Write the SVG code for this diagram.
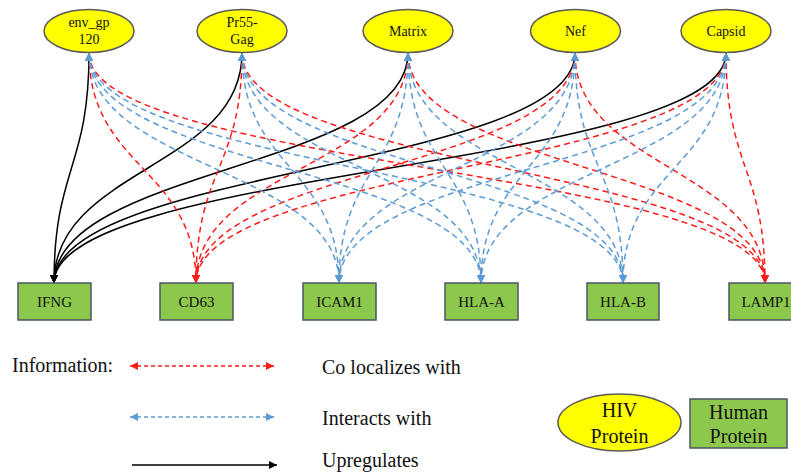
<svg xmlns="http://www.w3.org/2000/svg" width="791" height="473" viewBox="0 0 791 473">
<style>
.hiv{fill:#ffff00;stroke:#5a5a5a;stroke-width:1.5}
.hum{fill:#8cc84b;stroke:#4a5568;stroke-width:1.5}
.t{font-family:"Liberation Serif","Times New Roman",serif;fill:#111;text-anchor:middle}
.nt{font-size:14px}
.bt{font-size:15px}
.lg{font-size:20px}
.lt{font-family:"Liberation Serif","Times New Roman",serif;fill:#111;font-size:20px}
.red{fill:none;stroke:#ff1a1a;stroke-width:1.5;stroke-dasharray:6 4;marker-start:url(#ar);marker-end:url(#ar)}
.blue{fill:none;stroke:#5b9bd5;stroke-width:1.5;stroke-dasharray:6 4;marker-start:url(#ab);marker-end:url(#ab)}
.blk{fill:none;stroke:#000;stroke-width:1.5;marker-end:url(#ak)}
</style>
<defs>
<marker id="ar" viewBox="0 0 10 10" refX="10" refY="5" markerWidth="9" markerHeight="8" markerUnits="userSpaceOnUse" orient="auto-start-reverse"><path d="M0,0 L10,5 L0,10 z" fill="#ff1a1a"/></marker>
<marker id="ab" viewBox="0 0 10 10" refX="10" refY="5" markerWidth="9" markerHeight="8" markerUnits="userSpaceOnUse" orient="auto-start-reverse"><path d="M0,0 L10,5 L0,10 z" fill="#5b9bd5"/></marker>
<marker id="ak" viewBox="0 0 10 10" refX="10" refY="5" markerWidth="10" markerHeight="8" markerUnits="userSpaceOnUse" orient="auto-start-reverse"><path d="M0,0 L10,5 L0,10 z" fill="#000"/></marker>
</defs>
<rect width="791" height="473" fill="#fff"/>
<g id="connectors">
<path class="blk" d="M89,53 C89,168 54,168 54,283"/>
<path class="blk" d="M242,53 C242,168 54,168 54,283"/>
<path class="blk" d="M408,53 C408,168 54,168 54,283"/>
<path class="blk" d="M575,53 C575,168 54,168 54,283"/>
<path class="blk" d="M726,53 C726,168 54,168 54,283"/>
<path class="red" d="M89,53 C89,168 196,168 196,283"/>
<path class="red" d="M242,53 C242,168 196,168 196,283"/>
<path class="red" d="M408,53 C408,168 196,168 196,283"/>
<path class="red" d="M575,53 C575,168 196,168 196,283"/>
<path class="red" d="M726,53 C726,168 196,168 196,283"/>
<path class="red" d="M89,53 C89,168 765,168 765,283"/>
<path class="red" d="M242,53 C242,168 765,168 765,283"/>
<path class="red" d="M408,53 C408,168 765,168 765,283"/>
<path class="red" d="M575,53 C575,168 765,168 765,283"/>
<path class="red" d="M726,53 C726,168 765,168 765,283"/>
<path class="blue" d="M89,53 C89,168 339,168 339,283"/>
<path class="blue" d="M242,53 C242,168 339,168 339,283"/>
<path class="blue" d="M408,53 C408,168 339,168 339,283"/>
<path class="blue" d="M575,53 C575,168 339,168 339,283"/>
<path class="blue" d="M726,53 C726,168 339,168 339,283"/>
<path class="blue" d="M89,53 C89,168 481,168 481,283"/>
<path class="blue" d="M242,53 C242,168 481,168 481,283"/>
<path class="blue" d="M408,53 C408,168 481,168 481,283"/>
<path class="blue" d="M575,53 C575,168 481,168 481,283"/>
<path class="blue" d="M726,53 C726,168 481,168 481,283"/>
<path class="blue" d="M89,53 C89,168 623,168 623,283"/>
<path class="blue" d="M242,53 C242,168 623,168 623,283"/>
<path class="blue" d="M408,53 C408,168 623,168 623,283"/>
<path class="blue" d="M575,53 C575,168 623,168 623,283"/>
<path class="blue" d="M726,53 C726,168 623,168 623,283"/>
</g>
<g id="env_gp120"><ellipse class="hiv" cx="89" cy="31" rx="45" ry="21.5"/><text class="t nt" x="89" y="27">env_gp</text><text class="t nt" x="89" y="44">120</text></g>
<g id="Pr55-Gag"><ellipse class="hiv" cx="242" cy="31" rx="45" ry="21.5"/><text class="t nt" x="242" y="27">Pr55-</text><text class="t nt" x="242" y="44">Gag</text></g>
<g id="Matrix"><ellipse class="hiv" cx="408" cy="31" rx="45" ry="21.5"/><text class="t nt" x="408" y="36">Matrix</text></g>
<g id="Nef"><ellipse class="hiv" cx="575.5" cy="31" rx="45" ry="21.5"/><text class="t nt" x="575.5" y="36">Nef</text></g>
<g id="Capsid"><ellipse class="hiv" cx="726" cy="31" rx="45" ry="21.5"/><text class="t nt" x="726" y="36">Capsid</text></g>
<g id="IFNG"><rect class="hum" x="18" y="283" width="73" height="37"/><text class="t bt" x="54.5" y="307">IFNG</text></g>
<g id="CD63"><rect class="hum" x="160" y="283" width="73" height="37"/><text class="t bt" x="196.5" y="307">CD63</text></g>
<g id="ICAM1"><rect class="hum" x="303" y="283" width="73" height="37"/><text class="t bt" x="339.5" y="307">ICAM1</text></g>
<g id="HLA-A"><rect class="hum" x="445" y="283" width="73" height="37"/><text class="t bt" x="481.5" y="307">HLA-A</text></g>
<g id="HLA-B"><rect class="hum" x="587" y="283" width="72" height="37"/><text class="t bt" x="623" y="307">HLA-B</text></g>
<g id="LAMP1"><rect class="hum" x="729" y="283" width="73" height="37"/><text class="t bt" x="766" y="307">LAMP1</text></g>
<g id="legend">
<text class="lt" x="12" y="372">Information:</text>
<line x1="130" y1="366" x2="274" y2="366" style="fill:none;stroke:#ff1a1a;stroke-width:1.3;stroke-dasharray:4 3;marker-start:url(#ar);marker-end:url(#ar)"/>
<text class="lt" x="322" y="374">Co localizes with</text>
<line x1="130" y1="417" x2="274" y2="417" style="fill:none;stroke:#5b9bd5;stroke-width:1.3;stroke-dasharray:4 3;marker-start:url(#ab);marker-end:url(#ab)"/>
<text class="lt" x="322" y="425">Interacts with</text>
<line x1="132" y1="465" x2="277" y2="465" class="blk"/>
<text class="lt" x="322" y="467">Upregulates</text>
<ellipse class="hiv" cx="619.5" cy="422.5" rx="61.5" ry="28.5"/>
<text class="t lg" x="619.5" y="417">HIV</text>
<text class="t lg" x="619.5" y="443">Protein</text>
<rect class="hum" x="690" y="399" width="97" height="49"/>
<text class="t lg" x="738.5" y="419">Human</text>
<text class="t lg" x="738.5" y="443">Protein</text>
</g>
</svg>
